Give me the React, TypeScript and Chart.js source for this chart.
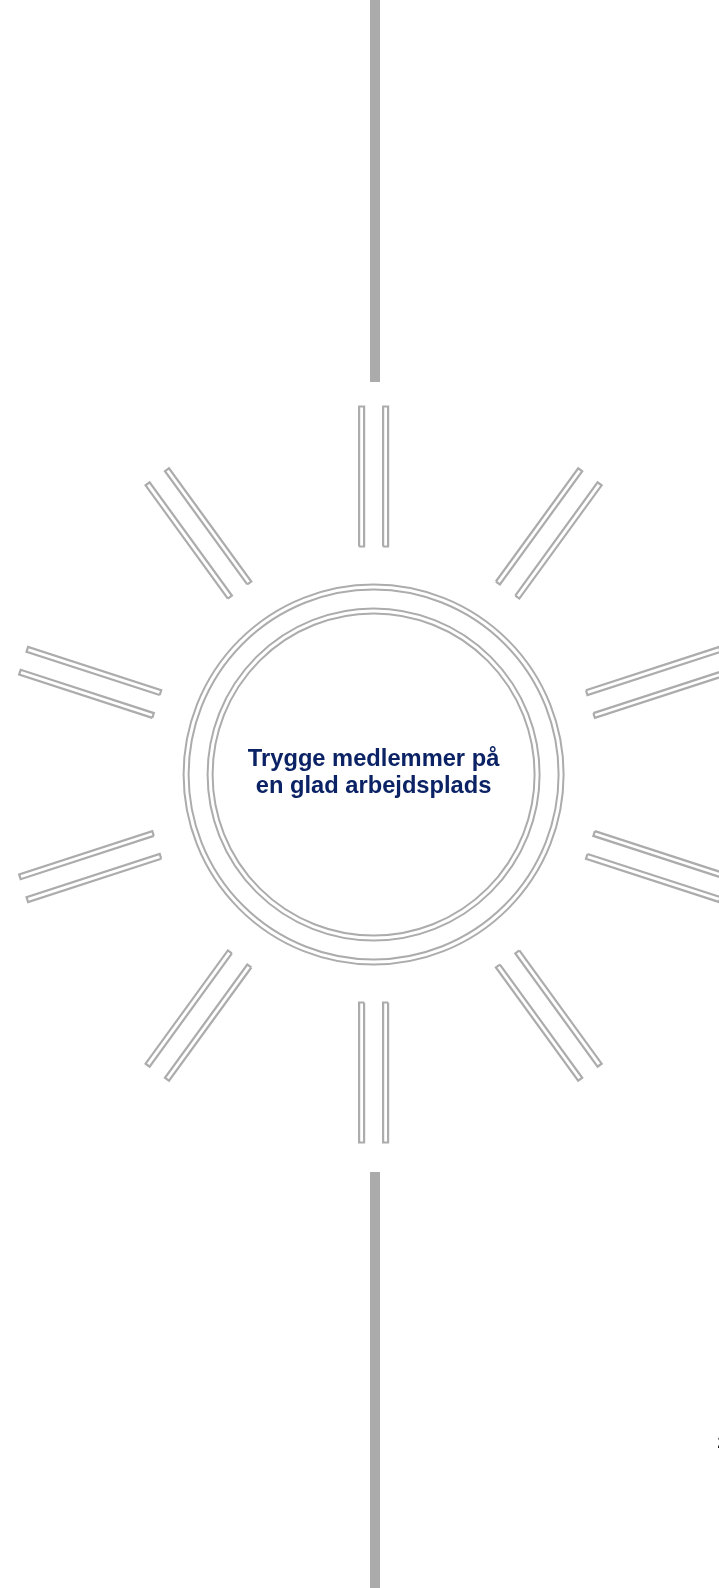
import React, { useEffect, useRef } from "react";
import { Chart, registerables } from "chart.js";

Chart.register(...registerables);

// Geometry "data" of the sun diagram (pixel units of the page)
const centerX = 373.6;
const centerY = 774.5;
const rayAngles = [90, 54, 18, -18, -54, -90, -126, -162, 162, 126];
const rayRadii = [227, 369];
const rayPairOffsets = [-12, 12];
const ringRadii = [190, 185, 166, 161];
const barX = [375];
const barTopY = [0, 382];
const barBottomY = [1172, 1588];
const centerLines = ["Trygge medlemmer på", "en glad arbejdsplads"];
const pageNumber = "2";

const W = 719;
const H = 1588;
const GREY = "#ababab";
const RAY_GREY = "#acacac";

function rayRect(angleDeg: number, offset: number) {
  const a = (angleDeg * Math.PI) / 180;
  const dx = Math.cos(a);
  const dy = -Math.sin(a);
  const px = Math.sin(a);
  const py = Math.cos(a);
  const half = 2.5;
  const r1 = rayRadii[0] + 1;
  const r2 = rayRadii[1] - 1;
  const pt = (r: number, s: number) => ({
    x: centerX + r * dx + s * px,
    y: centerY + r * dy + s * py,
  });
  return [
    pt(r1, offset - half),
    pt(r2, offset - half),
    pt(r2, offset + half),
    pt(r1, offset + half),
    pt(r1, offset - half),
  ];
}

export default function App() {
  const ref = useRef<HTMLCanvasElement | null>(null);

  useEffect(() => {
    if (!ref.current) return;
    const datasets: any[] = [];
    // vertical bars
    [barTopY, barBottomY].forEach((seg) => {
      datasets.push({
        data: seg.map((y) => ({ x: barX[0], y })),
        showLine: true,
        borderColor: GREY,
        borderWidth: 10,
        borderCapStyle: "butt",
        pointRadius: 0,
      });
    });
    // rays
    rayAngles.forEach((ang) => {
      rayPairOffsets.forEach((off) => {
        datasets.push({
          data: rayRect(ang, off),
          showLine: true,
          borderColor: RAY_GREY,
          borderWidth: 2.2,
          borderJoinStyle: "miter",
          pointRadius: 0,
          tension: 0,
        });
      });
    });
    // rings
    datasets.push({
      data: ringRadii.map(() => ({ x: centerX, y: centerY })),
      showLine: false,
      pointRadius: ringRadii,
      pointHoverRadius: ringRadii,
      pointBorderWidth: 2,
      pointBorderColor: RAY_GREY,
      pointBackgroundColor: "rgba(0,0,0,0)",
    });

    const chart = new Chart(ref.current, {
      type: "scatter",
      data: { datasets },
      options: {
        animation: false,
        responsive: false,
        devicePixelRatio: 1,
        layout: { padding: 0, autoPadding: false },
        events: [],
        plugins: { legend: { display: false }, tooltip: { enabled: false } },
        scales: {
          x: { type: "linear", min: 0, max: W, display: false },
          y: { type: "linear", min: 0, max: H, reverse: true, display: false },
        },
      },
    });
    return () => chart.destroy();
  }, []);

  return (
    <div
      style={{
        position: "absolute",
        left: 0,
        top: 0,
        width: W,
        height: H,
        background: "#ffffff",
        overflow: "hidden",
      }}
    >
      <canvas ref={ref} width={W} height={H} style={{ display: "block" }} />
      <div
        style={{
          position: "absolute",
          left: centerX - 150,
          width: 300,
          top: 744.5,
          textAlign: "center",
          fontFamily: '"Liberation Sans", Arial, sans-serif',
          fontWeight: "bold",
          fontSize: 23.7,
          lineHeight: "27.5px",
          color: "#0b2265",
        }}
      >
        {centerLines.map((l, i) => (
          <div key={i}>{l}</div>
        ))}
      </div>
      <div
        style={{
          position: "absolute",
          left: 717.5,
          top: 1433,
          fontFamily: '"Liberation Sans", Arial, sans-serif',
          fontWeight: "bold",
          fontSize: 16,
          lineHeight: "20px",
          color: "#000",
          whiteSpace: "nowrap",
        }}
      >
        {pageNumber}
      </div>
    </div>
  );
}
